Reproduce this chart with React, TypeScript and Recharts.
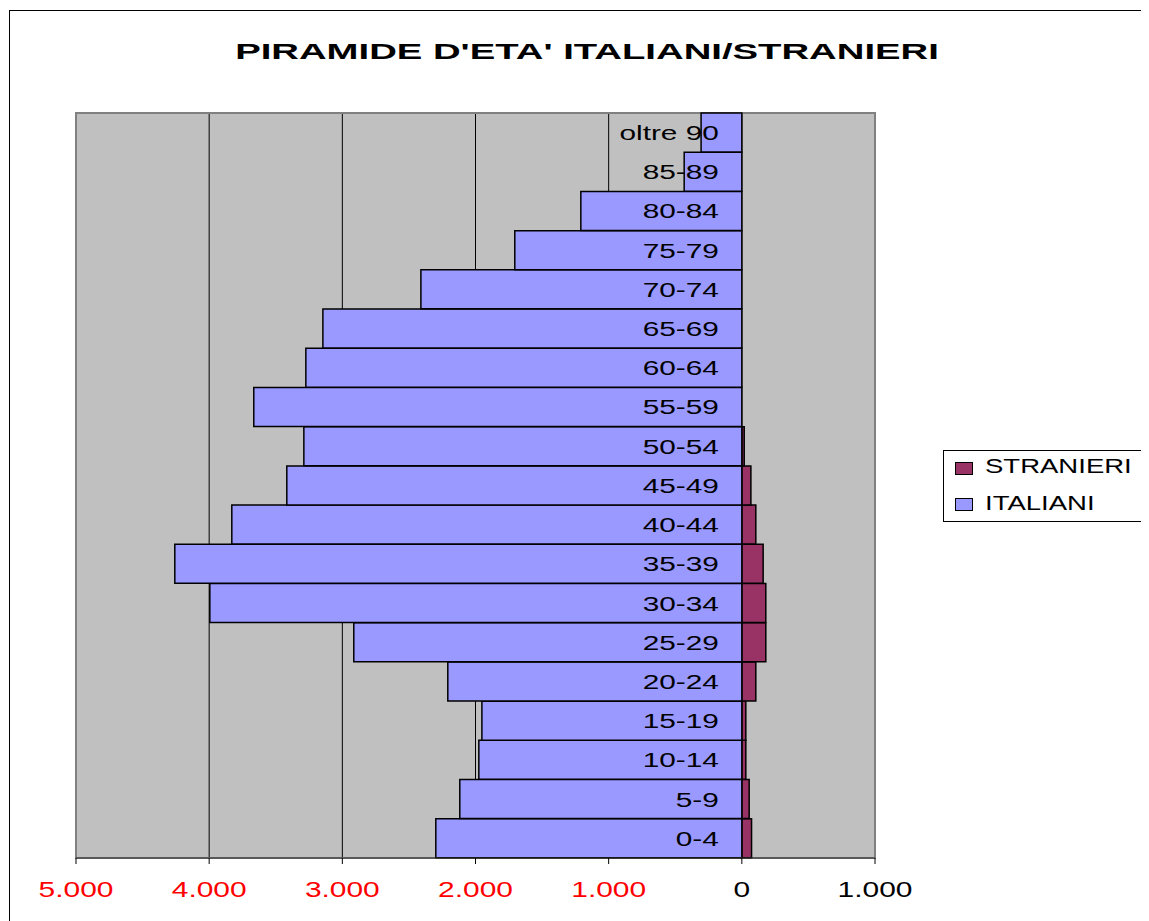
import { BarChart, Bar, XAxis, YAxis, CartesianGrid, ReferenceArea, LabelList, Legend } from 'recharts';

const ageGroups = ['0-4', '5-9', '10-14', '15-19', '20-24', '25-29', '30-34', '35-39', '40-44', '45-49', '50-54', '55-59', '60-64', '65-69', '70-74', '75-79', '80-84', '85-89', 'oltre 90'];
const italiani = [2298, 2118, 1975, 1952, 2208, 2914, 3995, 4258, 3830, 3417, 3289, 3665, 3274, 3146, 2410, 1705, 1209, 433, 306];
const stranieri = [73, 55, 30, 30, 105, 180, 180, 160, 105, 68, 18, 0, 0, 0, 0, 0, 0, 0, 0];
const xTicks = [-5000, -4000, -3000, -2000, -1000, 0, 1000];

const FONT = "'Liberation Sans', Arial, sans-serif";

// italiani go to the left of zero, stranieri to the right
const data = ageGroups.map((eta, i) => ({ eta, italiani: -italiani[i], stranieri: stranieri[i] }));

const fmt = (v: number) => String(Math.abs(v)).replace(/\B(?=(\d{3})+(?!\d))/g, '.');

function XTick(props: any) {
  const { x, y, payload } = props;
  const v = payload.value;
  return (
    <text
      transform={`translate(${x},${y + 31}) scale(1.36,1)`}
      textAnchor="middle"
      fontFamily={FONT}
      fontSize={22}
      fill={v < 0 ? '#FF0000' : '#000000'}
    >
      {fmt(v)}
    </text>
  );
}

// age label sits just left of the zero line (right end of the italiani bar)
const renderAge = (props: any) => {
  const { x, y, width, height, value } = props;
  const zero = Math.max(x, x + width);
  return (
    <text
      transform={`translate(${zero - 23},${y + height / 2 + 7.5}) scale(1.42,1)`}
      textAnchor="end"
      fontFamily={FONT}
      fontSize={21}
      fill="#000"
    >
      {value}
    </text>
  );
};

const renderLegend = (props: any) => {
  const items = [...(props.payload || [])].reverse();
  return (
    <div style={{ position: 'relative', width: 230, height: 70, border: '1px solid #000', background: '#fff' }}>
      {items.map((p: any, i: number) => (
        <div key={p.value}>
          <div
            style={{
              position: 'absolute',
              left: 11,
              top: 11 + i * 36,
              width: 16,
              height: 11,
              background: p.color,
              border: '1px solid #000',
            }}
          />
          <div
            style={{
              position: 'absolute',
              left: 41,
              top: 4 + i * 37,
              fontFamily: FONT,
              fontSize: 21,
              lineHeight: '21px',
              whiteSpace: 'nowrap',
              transform: 'scaleX(1.31)',
              transformOrigin: 'left',
            }}
          >
            {p.value}
          </div>
        </div>
      ))}
    </div>
  );
};

export default function App() {
  return (
    <div style={{ position: 'relative', width: 1141, height: 913, overflow: 'hidden', background: '#fff' }}>
      <div style={{ position: 'absolute', left: 1, top: 2, width: 1200, height: 1000, border: '1px solid #000' }} />
      <div
        style={{
          position: 'absolute',
          left: 579,
          top: 33,
          fontFamily: FONT,
          fontWeight: 'bold',
          fontSize: 22,
          lineHeight: '22px',
          whiteSpace: 'nowrap',
          transform: 'translateX(-50%) scaleX(1.74)',
        }}
      >
        PIRAMIDE D'ETA' ITALIANI/STRANIERI
      </div>
      <div style={{ position: 'absolute', left: 0, top: 0 }}>
        <BarChart
          width={1141}
          height={913}
          data={data}
          layout="vertical"
          stackOffset="sign"
          barCategoryGap={0}
          margin={{ top: 105, right: 274, bottom: 33, left: 68 }}
        >
          <CartesianGrid horizontal={false} stroke="#000" fill="#C0C0C0" fillOpacity={1} />
          <ReferenceArea x1={-5000} x2={1000} fill="none" stroke="#808080" strokeWidth={2} />
          <XAxis
            type="number"
            domain={[-5000, 1000]}
            ticks={xTicks}
            interval={0}
            height={30}
            tickSize={6}
            tick={<XTick />}
            axisLine={{ stroke: '#333' }}
            tickLine={{ stroke: '#000' }}
          />
          <YAxis type="category" dataKey="eta" reversed hide />
          <Legend
            layout="horizontal"
            align="center"
            verticalAlign="middle"
            content={renderLegend}
            wrapperStyle={{ position: 'absolute', left: 935, top: 442, width: 'auto' }}
          />
          <Bar dataKey="stranieri" name="STRANIERI" stackId="a" fill="#993366" stroke="#000" strokeWidth={1.5} isAnimationActive={false} />
          <Bar dataKey="italiani" name="ITALIANI" stackId="a" fill="#9999FF" stroke="#000" strokeWidth={1.5} isAnimationActive={false}>
            <LabelList dataKey="eta" content={renderAge} />
          </Bar>
        </BarChart>
      </div>
    </div>
  );
}
